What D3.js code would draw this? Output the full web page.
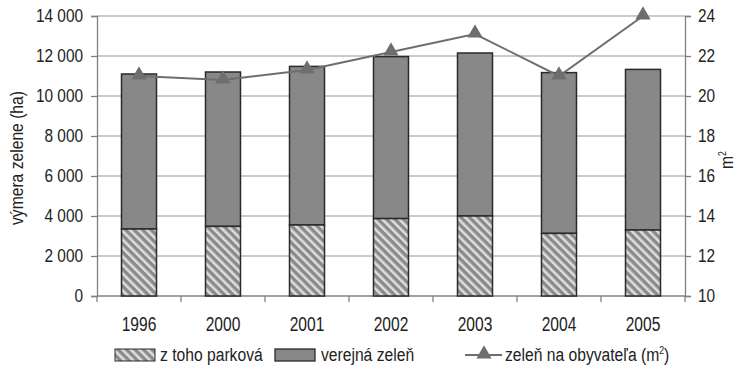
<!DOCTYPE html>
<html>
<head>
<meta charset="utf-8">
<script src="https://cdn.jsdelivr.net/npm/d3@7"></script>
<style>
  body { margin: 0; background: #fff; }
  svg text { font-family: "Liberation Sans", Arial, sans-serif; fill: #222; }
</style>
</head>
<body>
<div id="chart"></div>
<script>
// data
const years = ['1996', '2000', '2001', '2002', '2003', '2004', '2005'];
const verejna = [11100, 11200, 11480, 11970, 12150, 11170, 11330];
const parkova = [3350, 3480, 3550, 3870, 4000, 3130, 3300];
const naObyvatela = [21.0, 20.8, 21.3, 22.2, 23.1, 21.0, 24.0];
const leftTicks = [0, 2000, 4000, 6000, 8000, 10000, 12000, 14000];
const rightTicks = [10, 12, 14, 16, 18, 20, 22, 24];

const width = 740, height = 369;
const plotL = 97, plotR = 685, plotT = 16, plotB = 296;

const svg = d3.select('#chart').append('svg')
    .attr('width', width)
    .attr('height', height);

// hatch pattern for the park part
const defs = svg.append('defs');
const pat = defs.append('pattern')
    .attr('id', 'hatch')
    .attr('patternUnits', 'userSpaceOnUse')
    .attr('width', 6).attr('height', 6)
    .attr('patternTransform', 'rotate(45)');
pat.append('rect').attr('width', 6).attr('height', 6).attr('fill', '#dedede');
pat.append('rect').attr('width', 6).attr('height', 3.4).attr('fill', '#8a8a8a');

const x = d3.scaleBand().domain(years).range([plotL, plotR]).padding(0);
const y = d3.scaleLinear().domain([0, 14000]).range([plotB, plotT]);
const y2 = d3.scaleLinear().domain([10, 24]).range([plotB, plotT]);
const barW = 35;

const fmt = d => d3.format(',')(d).replace(/,/g, ' ');

// narrow-ish text helper (the source font is condensed)
function narrowText(parent, tx, ty, size, sx) {
    return parent.append('text')
        .attr('transform', `translate(${tx},${ty}) scale(${sx},1)`)
        .attr('font-size', size);
}

// gridlines
svg.append('g').selectAll('line')
    .data(leftTicks.slice(1))
    .enter().append('line')
        .attr('x1', plotL).attr('x2', plotR)
        .attr('y1', d => y(d)).attr('y2', d => y(d))
        .attr('stroke', '#bababa').attr('stroke-width', 1.3);

// left axis
const gl = svg.append('g')
    .attr('transform', `translate(${plotL},0)`)
    .call(d3.axisLeft(y).tickValues(leftTicks).tickFormat(fmt).tickSize(6));
// right axis
const gr = svg.append('g')
    .attr('transform', `translate(${plotR},0)`)
    .call(d3.axisRight(y2).tickValues(rightTicks).tickSize(6));
// bottom axis
const gb = svg.append('g')
    .attr('transform', `translate(0,${plotB})`)
    .call(d3.axisBottom(x).tickSize(0));

[gl, gr, gb].forEach(g => {
    g.select('.domain').attr('stroke', '#808080').attr('stroke-width', 1.3);
    g.selectAll('.tick line').attr('stroke', '#808080').attr('stroke-width', 1.3);
    g.selectAll('.tick text').attr('fill', '#222')
        .attr('font-family', '"Liberation Sans", Arial, sans-serif');
});
gl.selectAll('.tick text').attr('x', 0).attr('font-size', 17.5)
    .attr('transform', 'translate(-14,0) scale(0.88,1)');
gr.selectAll('.tick text').attr('x', 0).attr('font-size', 17.5)
    .attr('transform', 'translate(13,0) scale(0.88,1)');
gb.selectAll('.tick text').attr('y', 0).attr('dy', 0).attr('font-size', 19.5)
    .attr('transform', 'translate(0,35) scale(0.8,1)');
gb.select('.domain').attr('d', `M${plotL},0H${plotR}`);

// category boundary ticks on x axis
svg.append('g').selectAll('line')
    .data(years.map(d => x(d)).concat([plotR]))
    .enter().append('line')
        .attr('x1', d => d).attr('x2', d => d)
        .attr('y1', plotB).attr('y2', plotB + 6)
        .attr('stroke', '#808080').attr('stroke-width', 1.3);

// stacked bars
const bars = svg.append('g');
years.forEach((yr, i) => {
    const cx = x(yr) + x.bandwidth() / 2;
    bars.append('rect')
        .attr('x', cx - barW / 2)
        .attr('y', y(verejna[i]))
        .attr('width', barW)
        .attr('height', y(parkova[i]) - y(verejna[i]))
        .attr('fill', '#888889')
        .attr('stroke', '#2a2a2a').attr('stroke-width', 1.5);
    bars.append('rect')
        .attr('x', cx - barW / 2)
        .attr('y', y(parkova[i]))
        .attr('width', barW)
        .attr('height', y(0) - y(parkova[i]))
        .attr('fill', 'url(#hatch)')
        .attr('stroke', '#2a2a2a').attr('stroke-width', 1.5);
});

// line with triangles
const line = d3.line()
    .x((d, i) => x(years[i]) + x.bandwidth() / 2)
    .y(d => y2(d));
svg.append('path')
    .datum(naObyvatela)
    .attr('d', line)
    .attr('fill', 'none')
    .attr('stroke', '#6e6e6e').attr('stroke-width', 2);
const tri = d3.symbol().type(d3.symbolTriangle).size(100);
svg.append('g').selectAll('path')
    .data(naObyvatela)
    .enter().append('path')
        .attr('d', tri)
        .attr('transform', (d, i) => `translate(${x(years[i]) + x.bandwidth() / 2},${y2(d) - 1})`)
        .attr('fill', '#6e6e6e');

// axis titles
svg.append('text')
    .attr('transform', 'translate(23,158) rotate(-90) scale(0.87,1)')
    .attr('text-anchor', 'middle')
    .attr('font-size', 18)
    .text('výmera zelene (ha)');
const m2 = svg.append('text')
    .attr('transform', 'translate(733,160) rotate(-90) scale(0.87,1)')
    .attr('text-anchor', 'middle')
    .attr('font-size', 18);
m2.append('tspan').text('m');
m2.append('tspan').attr('font-size', 10).attr('dy', -7).text('2');

// legend
const lg = svg.append('g');
lg.append('rect').attr('x', 115).attr('y', 349).attr('width', 40).attr('height', 12)
    .attr('fill', 'url(#hatch)').attr('stroke', '#2a2a2a').attr('stroke-width', 1);
narrowText(lg, 160, 361, 18, 0.87).text('z toho parková');
lg.append('rect').attr('x', 275).attr('y', 349).attr('width', 40).attr('height', 12)
    .attr('fill', '#888889').attr('stroke', '#2a2a2a').attr('stroke-width', 1.3);
narrowText(lg, 321, 361, 18, 0.87).text('verejná zeleň');
lg.append('line').attr('x1', 465).attr('x2', 502).attr('y1', 355).attr('y2', 355)
    .attr('stroke', '#6e6e6e').attr('stroke-width', 2);
lg.append('path').attr('d', tri).attr('transform', 'translate(484,354)').attr('fill', '#6e6e6e');
const lt = narrowText(lg, 505, 361, 18, 0.87);
lt.append('tspan').text('zeleň na obyvateľa (m');
lt.append('tspan').attr('font-size', 10).attr('dy', -7).text('2');
lt.append('tspan').attr('dy', 7).text(')');
</script>
</body>
</html>
